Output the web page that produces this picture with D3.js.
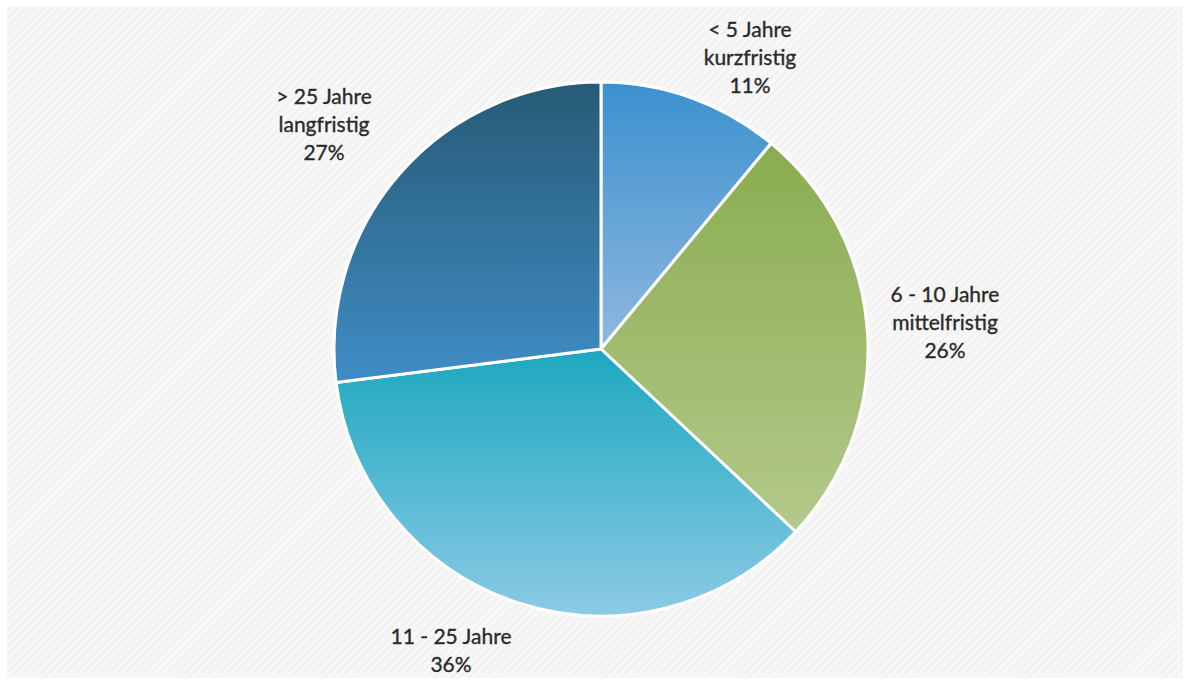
<!DOCTYPE html>
<html><head><meta charset="utf-8">
<script src="https://cdn.jsdelivr.net/npm/d3@7"></script>
<style>body{margin:0;background:#fff}svg{display:block}</style>
</head><body>
<svg id="c" width="1190" height="685"></svg>
<script>
const categories = ["< 5 Jahre", "6 - 10 Jahre", "11 - 25 Jahre", "> 25 Jahre"];
const subtitles = ["kurzfristig", "mittelfristig", "", "langfristig"];
const values = [11, 26, 36, 27];
const gradTop = ["#3a91cf", "#8aac50", "#1ca8bf", "#275a75"];
const gradBottom = ["#8fb8df", "#b3c98a", "#8ccae6", "#3f8dc6"];

const svg = d3.select("#c");
const defs = svg.append("defs");
const pat = defs.append("pattern").attr("id","hatch").attr("patternUnits","userSpaceOnUse")
  .attr("width",6).attr("height",6).attr("patternTransform","rotate(45)");
pat.append("rect").attr("width",6).attr("height",6).attr("fill","#f7f7f7");
pat.append("line").attr("x1",0).attr("y1",0).attr("x2",0).attr("y2",6).attr("stroke","#ededed").attr("stroke-width",2);
svg.append("rect").attr("x",7).attr("y",7).attr("width",1176).attr("height",671).attr("fill","url(#hatch)");

values.forEach((v,i)=>{
  const g = defs.append("linearGradient").attr("id","g"+i).attr("x1",0).attr("y1",0).attr("x2",0).attr("y2",1);
  g.append("stop").attr("offset","0%").attr("stop-color",gradTop[i]);
  g.append("stop").attr("offset","100%").attr("stop-color",gradBottom[i]);
});

const cx = 601, cy = 349, r = 267;
const pie = d3.pie().sort(null).value(d=>d)(values);
const arc = d3.arc().innerRadius(0).outerRadius(r);
const gp = svg.append("g").attr("transform",`translate(${cx},${cy})`);
gp.selectAll("path").data(pie).join("path")
  .attr("d",arc).attr("fill",(d,i)=>`url(#g${i})`)
  .attr("stroke","#ffffff").attr("stroke-width",3).attr("stroke-linejoin","round");

const labelPos = [[750,30],[945,295],[451,637],[324,97]];
const font = "Lato, 'Open Sans', sans-serif";
categories.forEach((c,i)=>{
  const lines = [c];
  if (subtitles[i]) lines.push(subtitles[i]);
  lines.push(values[i]+"%");
  const t = svg.append("text").attr("text-anchor","middle").attr("font-family",font)
    .attr("font-size",21).attr("fill","#2a2a2a").attr("stroke","#2a2a2a").attr("stroke-width",0.35);
  lines.forEach((l,j)=>{
    t.append("tspan").attr("x",labelPos[i][0]).attr("y",labelPos[i][1]+j*28+7).text(l);
  });
});
</script>
</body></html>
